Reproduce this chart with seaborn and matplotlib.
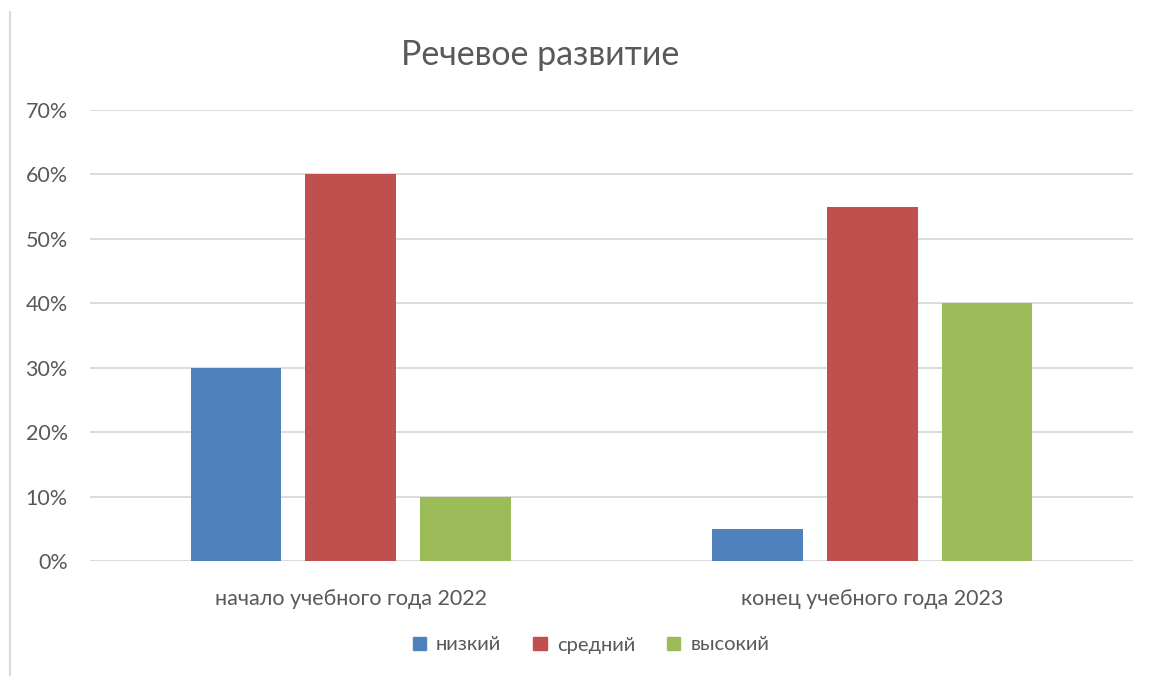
import matplotlib
matplotlib.use("Agg")
import matplotlib.pyplot as plt
import matplotlib.lines as mlines
import seaborn as sns
import pandas as pd
from matplotlib.ticker import PercentFormatter, MultipleLocator

categories = ["начало учебного года 2022", "конец учебного года 2023"]
levels = ["низкий", "средний", "высокий"]
low = [0.30, 0.05]
mid = [0.60, 0.55]
high = [0.10, 0.40]
colors = ["#4F81BD", "#C0504D", "#9BBB59"]

rows = []
for i, c in enumerate(categories):
    for lev, vals in zip(levels, [low, mid, high]):
        rows.append({"period": c, "level": lev, "value": vals[i]})
df = pd.DataFrame(rows)

sns.set_theme(style="white")
plt.rcParams["font.family"] = ["Lato", "DejaVu Sans"]

W, H = 1154, 676
fig = plt.figure(figsize=(W / 100, H / 100), dpi=100)
ax = fig.add_axes([90 / W, 1 - 561 / H, (1133 - 90) / W, (561 - 110) / H])

sns.barplot(data=df, x="period", y="value", hue="level", order=categories,
            hue_order=levels, palette=colors, width=0.66, gap=0.21,
            saturation=1, ax=ax, legend=True, errorbar=None, linewidth=0)

ax.set_ylim(0, 0.7)
ax.set_xlim(-0.5, 1.5)
ax.yaxis.set_major_locator(MultipleLocator(0.1))
ax.yaxis.set_major_formatter(PercentFormatter(1.0, decimals=0))
ax.grid(axis="y", color="#D9D9D9", linewidth=1.3)
ax.set_axisbelow(True)
for s in ax.spines.values():
    s.set_visible(False)
ax.set_xlabel("")
ax.set_ylabel("")
ax.tick_params(axis="y", length=0, pad=16, labelsize=15.5, labelcolor="#595959")
ax.tick_params(axis="x", length=0, pad=20, labelsize=15.5, labelcolor="#595959")

ax.get_legend().remove()
handles = [plt.Rectangle((0, 0), 1, 1, color=c) for c in colors]
fig.legend(handles, levels, loc="center", bbox_to_anchor=(591 / W, 1 - 645 / H),
           ncol=3, frameon=False, fontsize=14.5, labelcolor="#595959",
           handlelength=0.65, handleheight=0.65, handletextpad=0.5, columnspacing=1.6)

fig.text(540 / W, 1 - 55 / H, "Речевое развитие", ha="center", va="center",
         fontsize=24.5, color="#595959")

fig.add_artist(mlines.Line2D([10 / W, 10 / W], [0, 1 - 12 / H],
                             transform=fig.transFigure, color="#D9D9D9", linewidth=1.5))

fig.savefig("out.png", dpi=100)
